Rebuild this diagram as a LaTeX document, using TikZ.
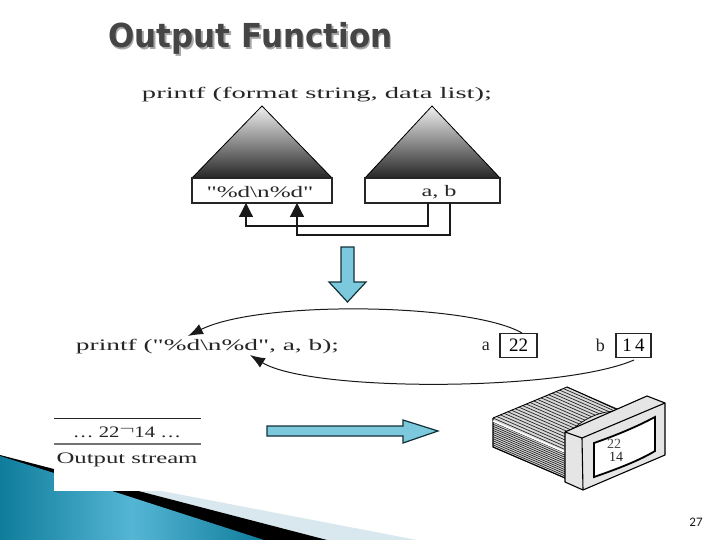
\documentclass[tikz,border=0pt]{standalone}
\usepackage{graphicx}
\usepackage{fontspec}
\setmainfont{Liberation Serif}
\newfontfamily\titlefont{DejaVu Sans}
\newfontfamily\pagefont{Carlito}
\newfontfamily\plainserif{Liberation Serif}
\usetikzlibrary{arrows.meta}
\definecolor{arrowblue}{HTML}{7CC8DC}
\definecolor{arrowedge}{HTML}{123038}
\definecolor{titlegray}{HTML}{454545}
\definecolor{ribbondark}{HTML}{0F7C9C}
\definecolor{ribbonlight}{HTML}{55B6D4}
\definecolor{ribbonpale}{HTML}{D8E8EE}
\newcommand{\fitw}[2]{\resizebox{#1}{\height}{#2}}
\newcommand{\dq}{{\plainserif\symbol{34}}}
\tikzset{
  txt/.style={inner sep=0pt,font=\fontsize{16}{16}\selectfont,text=black!85},
  slotbox/.style={draw=black!85,line width=1.3pt,fill=white,minimum height=25pt,inner sep=0pt},
  valbox/.style={draw=black!85,line width=1.2pt,fill=white,minimum height=24pt,inner sep=0pt,font=\fontsize{19}{19}\selectfont},
  cone/.style={draw=black,line width=0.8pt,top color=black!6,bottom color=black!85},
  bigarrow/.style={draw=arrowedge,line width=1.2pt,fill=arrowblue,line join=miter},
  flow/.style={draw=black!90,line width=1.2pt,-{Triangle[length=14pt,width=14pt]}},
  curved/.style={draw=black!90,line width=1pt,-{Latex[length=15pt,width=11pt]}},
  hatch/.style={draw=black!85,line width=0.7pt},
  monitor/.style={draw=black,line width=1.1pt,fill=black!10,line join=round}
}
\begin{document}
\begin{tikzpicture}[x=1pt,y=-1pt]
\useasboundingbox (0,0) rectangle (720,540);
\fill[white] (0,0) rectangle (720,540);
% slide ribbon
\fill[ribbonpale] (120,483) -- (417,540) -- (320,540) -- (120,490) -- cycle;
\fill[black] (0,455) -- (327,540) -- (262,540) -- (0,470) -- cycle;
\shade[left color=ribbondark,right color=ribbondark,middle color=ribbonlight,shading angle=90]
  (0,456) -- (54,473) -- (112,491) -- (264,540) -- (0,540) -- cycle;
\fill[white] (54,400) rectangle (230,491);
% title
\node[inner sep=0pt,text=black!35] at (252,40) {\fitw{284pt}{\titlefont\bfseries\fontsize{33}{33}\selectfont Output Function}};
\node (title) [inner sep=0pt,text=titlegray] at (250.5,38.5) {\fitw{284pt}{\titlefont\bfseries\fontsize{33}{33}\selectfont Output Function}};
% upper part
\node (proto) [txt] at (317,95) {\fitw{350pt}{printf (format string, data list);}};
\fill[cone] (262,106) -- (332,178) -- (192,178) -- cycle;
\fill[cone] (432,106) -- (500,178) -- (365,178) -- cycle;
\node (fmt) [slotbox,minimum width=140pt] at (262,190.5) {};
\node (args) [slotbox,minimum width=135pt] at (432.5,190.5) {};
\node (fmttext) [txt] at (260,192) {\fitw{107pt}{\dq\%d\textbackslash n\%d\dq}};
\node (argtext) [txt] at (439,192) {\fitw{35pt}{a, b}};
\coordinate (fa) at (246,203);
\coordinate (fb) at (297,203);
\coordinate (aa) at (428,203);
\coordinate (ab) at (450,203);
\coordinate (ja) at (428,226);
\coordinate (jb) at (450,235);
\draw[flow] (aa) -- (ja) -- (ja -| fa) -- (fa);
\draw[flow] (ab) -- (jb) -- (jb -| fb) -- (fb);
% down arrow
\draw[bigarrow] (341,247) -- (354,247) -- (354,282) -- (366,282) -- (347.5,302) -- (329,282) -- (341,282) -- cycle;
% call line
\node (call) [txt] at (207.5,346.5) {\fitw{263pt}{printf (\dq\%d\textbackslash n\%d\dq, a, b);}};
\node (la) [txt,anchor=east,font=\fontsize{18}{18}\selectfont] at (490,346) {a};
\node (v22) [valbox,minimum width=37pt] at (518.5,345.5) {22};
\node (lb) [txt,anchor=east,font=\fontsize{18}{18}\selectfont] at (605,345) {b};
\node (v14) [valbox,minimum width=35pt] at (633.5,345.5) {1\,4};
\coordinate (t1) at (188,336);
\coordinate (t2) at (250,355);
\draw[curved] (522,333) .. controls (470,303) and (260,300) .. (t1);
\draw[curved] (634,360) .. controls (560,392) and (310,392) .. (t2);
% stream
\coordinate (s1) at (54,418.5);
\coordinate (s2) at (201,418.5);
\coordinate (s3) at (54,444);
\coordinate (s4) at (201,444);
\draw[black!85,line width=1.2pt] (s1) -- (s2);
\draw[black!55,line width=1.2pt] (s3) -- (s4);
\node (stream) [txt] at (127,432) {\fitw{108pt}{\dots\ 22\raisebox{3pt}{$\neg$}14 \dots}};
\node (streamlabel) [txt] at (127,460) {\fitw{141pt}{Output stream}};
% right arrow
\draw[bigarrow] (267,426) -- (403,426) -- (403,420) -- (438,431) -- (403,443) -- (403,436) -- (267,436) -- cycle;
% monitor body
\fill[black!15] (493,418) -- (567,387) -- (618,410) -- (570,480) -- (493,447) -- cycle;
\foreach \i in {0,...,20} {
  \pgfmathsetmacro{\tx}{493+74*\i/20}
  \pgfmathsetmacro{\ty}{418-31*\i/20}
  \draw[hatch] (\tx,\ty) -- (\tx+71,\ty+31);
}
\foreach \i in {1,...,13} {
  \pgfmathsetmacro{\ty}{420+27*\i/13}
  \draw[hatch] (493,\ty) -- (565,\ty+31);
}
\draw[draw=black,line width=1.1pt] (493,418) -- (493,447) -- (565,478);
\draw[draw=black,line width=0.9pt] (493,418) -- (567,387) -- (618,410);
\draw[white,line width=1.6pt] (493,421) -- (565,452);
\filldraw[draw=black,line width=0.7pt,fill=black!12] (572,430) .. controls (585,418) and (600,411) .. (619,411) -- (600,425) -- cycle;
% monitor front
\filldraw[monitor] (565,432) -- (647,396) -- (665,403) -- (665,455) -- (583,490) -- (565,482) -- cycle;
\draw[black,line width=1.1pt] (565,432) -- (582,438) -- (665,403);
\draw[black,line width=1.1pt] (582,438) -- (583,490);
\filldraw[draw=black,line width=1.8pt,fill=white] (594,443) .. controls (620,434) and (640,425) .. (655,417) -- (655,451) .. controls (640,460) and (620,468) .. (594,477) -- cycle;
\node (scr1) [inner sep=0pt,font=\fontsize{14}{14}\selectfont,text=black!70] at (614,444) {22};
\node (scr2) [inner sep=0pt,font=\fontsize{14}{14}\selectfont,text=black!85] at (616,457) {14};
% page number
\node (page) [inner sep=0pt,font=\pagefont\fontsize{13}{13}\selectfont,text=black!90] at (696,522) {27};
\end{tikzpicture}
\end{document}
